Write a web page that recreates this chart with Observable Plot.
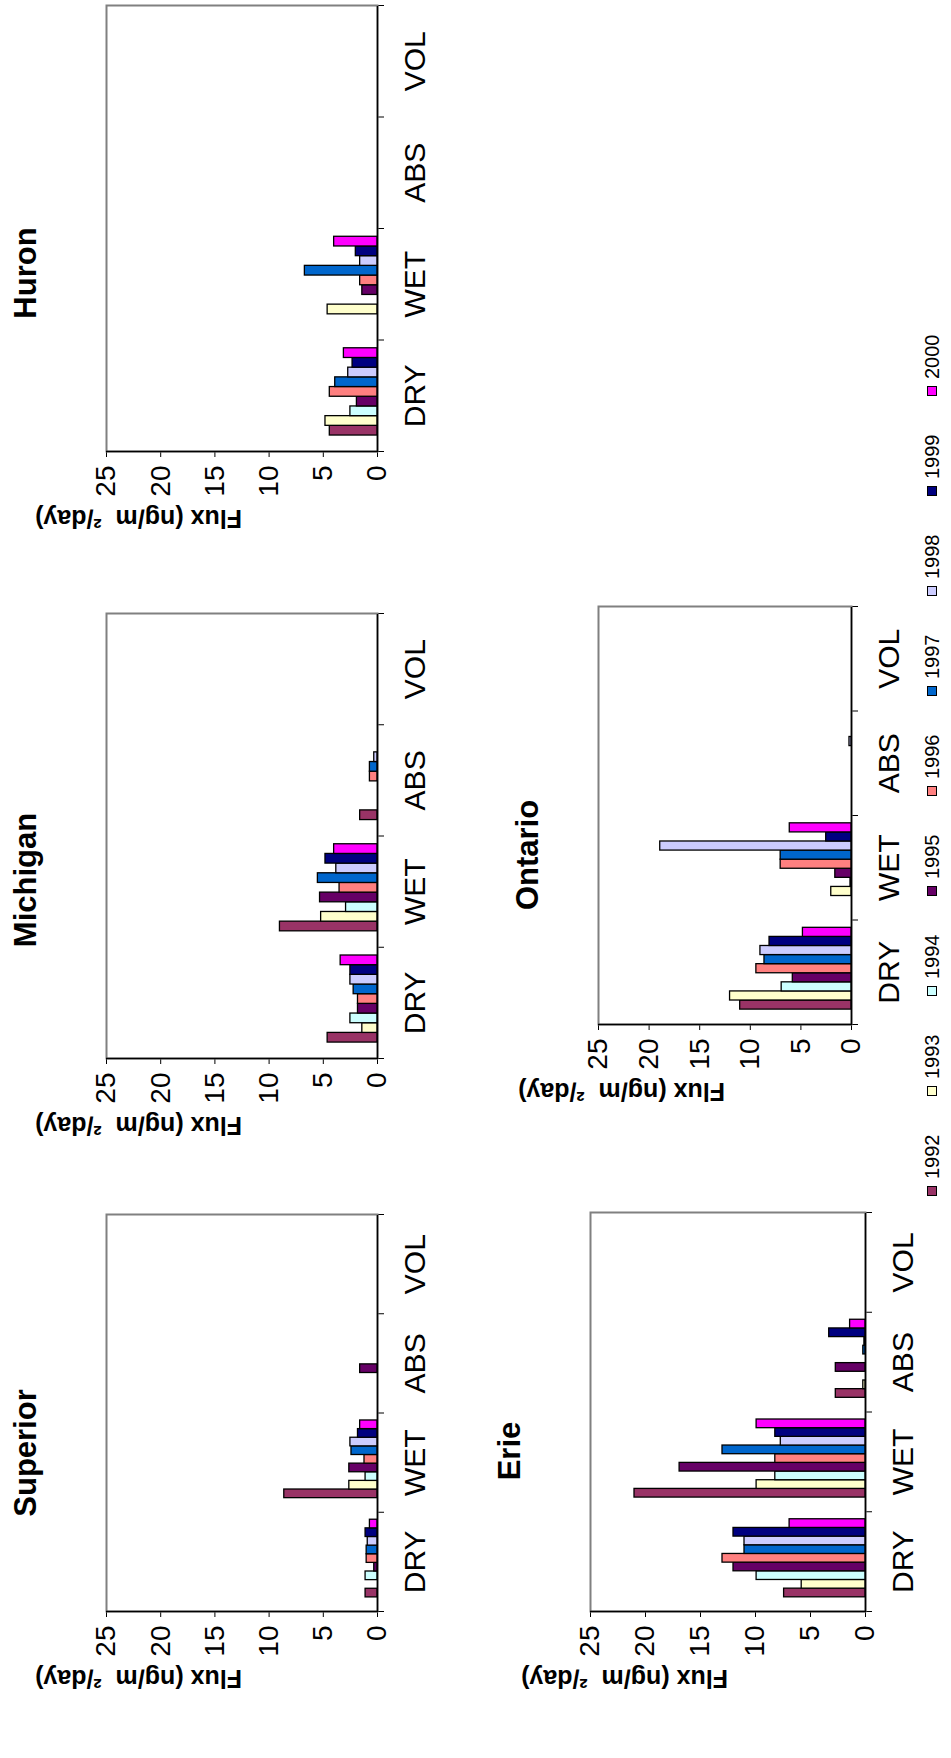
<!DOCTYPE html>
<html>
<head>
<meta charset="utf-8">
<script src="https://cdn.jsdelivr.net/npm/d3@7"></script>
<script src="https://cdn.jsdelivr.net/npm/@observablehq/plot@0.6"></script>
<style>
html, body { margin: 0; padding: 0; background: #fff; }
body { width: 951px; height: 1758px; overflow: hidden; position: relative; font-family: "Liberation Sans", Arial, sans-serif; }
#stage { position: absolute; left: 0; top: 0; width: 1758px; height: 951px; transform-origin: 0 0; transform: translate(0px, 1758px) rotate(-90deg); background: #fff; }
.panel { position: absolute; }
.title { position: absolute; font-weight: bold; font-size: 31px; line-height: 1; white-space: nowrap; transform: translateX(-50%); color: #000; }
.legend { position: absolute; display: flex; align-items: center; font-size: 20px; line-height: 1; color: #000; }
.legend .item { display: flex; align-items: center; width: 100px; }
.legend .sw { width: 8px; height: 8px; border: 1px solid #000; margin-right: 7px; flex: none; }
</style>
</head>
<body>
<div id="stage"></div>
<script>
// ---- data ----
const categories = ["DRY", "WET", "ABS", "VOL"];
const years = [1992, 1993, 1994, 1995, 1996, 1997, 1998, 1999, 2000];
const yearColors = ["#993366", "#FFFFCC", "#CCFFFF", "#660066", "#FF8080", "#0066CC", "#CCCCFF", "#000080", "#FF00FF"];
const yTicks = [0, 5, 10, 15, 20, 25];
const yLabel = "Flux (ng/m\u00a0 \u00b2/day)";
const lakeNames = ["Superior", "Michigan", "Huron", "Erie", "Ontario"];
// rows: DRY, WET, ABS, VOL ; columns: 1992..2000 (null = no bar)
const superior = [
  [1.1, null, 1.1, 0.3, 1.0, 1.0, 0.9, 1.1, 0.7],
  [8.6, 2.6, 1.1, 2.6, 1.2, 2.4, 2.5, 1.8, 1.6],
  [null, null, null, 1.6, null, null, null, null, null],
  [null, null, null, null, null, null, null, null, null]
];
const michigan = [
  [4.6, 1.4, 2.5, 1.8, 1.8, 2.2, 2.5, 2.5, 3.4],
  [9.0, 5.2, 2.9, 5.3, 3.5, 5.5, 3.8, 4.8, 4.0],
  [1.6, null, null, null, 0.7, 0.7, 0.3, null, null],
  [null, null, null, null, null, null, null, null, null]
];
const huron = [
  [4.4, 4.8, 2.5, 1.9, 4.4, 3.9, 2.7, 2.3, 3.1],
  [null, 4.6, null, 1.4, 1.6, 6.7, 1.6, 2.0, 4.0],
  [null, null, null, null, null, null, null, null, null],
  [null, null, null, null, null, null, null, null, null]
];
const erie = [
  [7.4, 5.8, 9.9, 12.0, 13.0, 11.0, 11.0, 12.0, 6.9],
  [21.0, 9.9, 8.2, 16.9, 8.2, 13.0, 7.7, 8.2, 9.9],
  [2.7, 0.2, null, 2.7, null, 0.2, 0.1, 3.3, 1.4],
  [null, null, null, null, null, null, null, null, null]
];
const ontario = [
  [11.0, 12.0, 6.9, 5.8, 9.4, 8.6, 9.0, 8.1, 4.8],
  [null, 2.0, 0.1, 1.6, 7.0, 7.0, 18.9, 2.5, 6.1],
  [null, null, null, null, null, null, 0.2, null, null],
  [null, null, null, null, null, null, null, null, null]
];
const lakeValues = [superior, michigan, huron, erie, ontario];

// ---- layout (landscape frame, later rotated) ----
const boxes = [
  {x0: 146, x1: 543, y0: 106, y1: 377, tx: 305, tb: 36},
  {x0: 699, x1: 1144, y0: 106, y1: 377, tx: 878, tb: 36},
  {x0: 1306, x1: 1752, y0: 106, y1: 377, tx: 1485, tb: 36},
  {x0: 146, x1: 545, y0: 590, y1: 865, tx: 307, tb: 520},
  {x0: 733, x1: 1151, y0: 598, y1: 851, tx: 903, tb: 538}
];

const stage = document.getElementById("stage");

// slot scale for the clustered bars inside one category (Excel: 150% gap, first slot empty)
const slot = Plot.scale({x: {type: "band", domain: years, range: [0, 1], paddingInner: 0, paddingOuter: 1.25, align: 0.7, round: false}});

function drawPanel(name, values, box) {
  const rows = [];
  categories.forEach((c, ci) => years.forEach((yr, yi) => {
    const v = values[ci][yi];
    if (v != null) rows.push({cat: c, ci, year: yr, value: v});
  }));
  const mL = 100, mR = 10, mT = 10, mB = 60;
  const w = box.x1 - box.x0, h = box.y1 - box.y0;
  const chart = Plot.plot({
    width: w + mL + mR,
    height: h + mT + mB,
    marginLeft: mL, marginRight: mR, marginTop: mT, marginBottom: mB,
    style: {fontFamily: "'Liberation Sans', Arial, sans-serif", fontSize: "28px", color: "#000", background: "transparent", overflow: "visible"},
    x: {type: "linear", domain: [0, categories.length], ticks: d3.range(categories.length + 1), tickSize: 7, tickFormat: () => "", label: null},
    y: {domain: [0, 25], ticks: yTicks, tickSize: 5, tickPadding: 9, label: null},
    color: {domain: years, range: yearColors},
    marks: [
      Plot.frame({stroke: "#808080", strokeWidth: 2}),
      Plot.rect(rows, {
        x1: d => d.ci + slot.apply(d.year),
        x2: d => d.ci + slot.apply(d.year) + slot.bandwidth,
        y1: 0,
        y2: "value",
        fill: "year",
        stroke: "#000",
        strokeWidth: 1.3
      }),
      Plot.ruleY([0], {stroke: "#000", strokeWidth: 1.5}),
      Plot.ruleX([0], {stroke: "#000", strokeWidth: 1.5}),
      Plot.text(categories, {x: (d, i) => i + 0.5, frameAnchor: "bottom", dy: 38, fontSize: 30, fontFamily: "'Liberation Sans Narrow', 'Arial Narrow', 'Liberation Sans', Arial, sans-serif", lineAnchor: "middle", fill: "#000"}),
      Plot.text([yLabel], {frameAnchor: "left", dx: -66, rotate: -90, fontSize: 25, fontWeight: "bold", lineAnchor: "middle", fill: "#000"})
    ]
  });
  chart.classList.add("panel");
  chart.style.left = (box.x0 - mL) + "px";
  chart.style.top = (box.y0 - mT) + "px";
  stage.appendChild(chart);

  const t = document.createElement("div");
  t.className = "title";
  t.textContent = name;
  t.style.left = box.tx + "px";
  t.style.top = (box.tb - 26) + "px";
  stage.appendChild(t);
}

lakeNames.forEach((n, i) => drawPanel(n, lakeValues[i], boxes[i]));

// legend
const legend = document.createElement("div");
legend.className = "legend";
legend.style.left = "562px";
legend.style.top = "922px";
years.forEach((yr, i) => {
  const item = document.createElement("div");
  item.className = "item";
  const sw = document.createElement("span");
  sw.className = "sw";
  sw.style.background = yearColors[i];
  const lb = document.createElement("span");
  lb.textContent = String(yr);
  item.appendChild(sw);
  item.appendChild(lb);
  legend.appendChild(item);
});
stage.appendChild(legend);
</script>
</body>
</html>
